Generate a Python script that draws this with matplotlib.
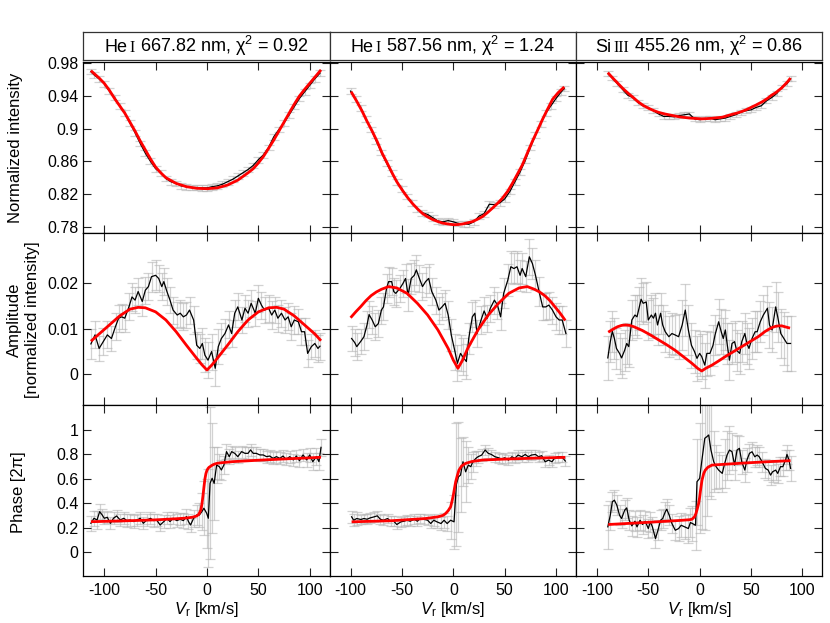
import matplotlib
matplotlib.use('Agg')
import matplotlib.pyplot as plt

plt.rcParams['font.family'] = ['Liberation Sans', 'DejaVu Sans']
plt.rcParams['mathtext.fontset'] = 'custom'
plt.rcParams['mathtext.rm'] = 'Liberation Sans'
plt.rcParams['mathtext.sf'] = 'Liberation Sans'
plt.rcParams['mathtext.it'] = 'Liberation Sans:italic'
plt.rcParams['mathtext.bf'] = 'Liberation Sans:bold'
plt.rcParams['axes.unicode_minus'] = False

# ---------------- titles ----------------
title_elem = ["He", "He", "Si"]
title_ion = ["I", "I", "III"]
title_rest = [r" 667.82 nm, $\mathrm{\chi}^2$ = 0.92",
              r" 587.56 nm, $\mathrm{\chi}^2$ = 1.24",
              r" 455.26 nm, $\mathrm{\chi}^2$ = 0.86"]

x_ticks = [-100, -50, 0, 50, 100]
row_yticks = [[0.78, 0.82, 0.86, 0.9, 0.94, 0.98], [0, 0.01, 0.02], [0, 0.2, 0.4, 0.6, 0.8, 1]]
row_yticklabels = [["0.78", "0.82", "0.86", "0.9", "0.94", "0.98"], ["0", "0.01", "0.02"],
                   ["0", "0.2", "0.4", "0.6", "0.8", "1"]]
row_labels = ["Normalized intensity", "Amplitude\n[normalized intensity]", "Phase [2\u03c0]"]

# ---------------- row 1: normalized intensity ----------------
int_v1 = [-113, -110, -105, -100, -95, -90, -85, -80, -75, -70, -65, -60, -55, -50, -45, -40, -35, -30, -25, -20,
          -15, -10, -5, 0, 5, 10, 15, 20, 25, 30, 35, 40, 45, 50, 55, 60, 65, 70, 75, 80, 85, 90, 95, 100, 105, 110]
int_y1 = [0.970, 0.966, 0.961, 0.955, 0.946, 0.938, 0.928, 0.919, 0.907, 0.895,
          0.882, 0.870, 0.860, 0.851, 0.846, 0.839, 0.835, 0.833, 0.830, 0.829,
          0.828, 0.828, 0.8275, 0.8275, 0.829, 0.830, 0.832, 0.835, 0.838, 0.842,
          0.846, 0.850, 0.855, 0.862, 0.868, 0.877, 0.890, 0.899, 0.907, 0.917,
          0.927, 0.937, 0.945, 0.953, 0.961, 0.968]
int_err1 = 0.0035
int_mv1 = [-113, -105, -100, -95, -90, -85, -80, -75, -70, -65, -60, -55, -50, -45, -40, -30, -20, -10, 0, 10, 20,
           30, 40, 45, 50, 55, 60, 65, 70, 75, 80, 85, 90, 95, 100, 105, 111]
int_m1 = [0.971, 0.962, 0.9555, 0.947, 0.937, 0.928, 0.919, 0.908, 0.897, 0.885, 0.874, 0.863, 0.853, 0.846,
          0.840, 0.833, 0.829, 0.827, 0.8265, 0.8275, 0.831, 0.837, 0.846, 0.851, 0.858, 0.866, 0.876, 0.886,
          0.897, 0.908, 0.919, 0.930, 0.940, 0.948, 0.9555, 0.963, 0.972]

int_v2 = [-100, -95, -90, -85, -80, -75, -70, -65, -60, -55, -50, -45, -40, -35, -30, -25, -20, -15, -10, -5,
          0, 5, 10, 15, 20, 25, 30, 35, 40, 45, 50, 55, 60, 65, 70, 75, 80, 85, 90, 95, 100, 105, 108]
int_y2 = [0.946, 0.936, 0.925, 0.912, 0.899, 0.885, 0.871, 0.858, 0.846, 0.835,
          0.826, 0.817, 0.809, 0.802, 0.797, 0.795, 0.791, 0.787, 0.786, 0.7875,
          0.786, 0.784, 0.7835, 0.783, 0.786, 0.793, 0.796, 0.8075, 0.807, 0.809,
          0.814, 0.823, 0.835, 0.847, 0.861, 0.877, 0.892, 0.906, 0.919, 0.928,
          0.937, 0.945, 0.949]
int_err2 = 0.0035
int_mv2 = [-99.5, -94, -88.8, -84, -79, -74, -69.3, -64, -59.5, -55, -49.8, -45, -40, -35, -30.2, -25, -20.5,
           -15, -10.7, -5, 0, 4, 8.8, 13, 18.5, 23, 28.3, 33, 38, 43, 47.8, 53, 57.6, 62, 67.3, 72, 77, 82, 86.8,
           91, 96.6, 102, 108]
int_m2 = [0.9453, 0.9335, 0.9215, 0.909, 0.897, 0.884, 0.870, 0.857, 0.8456, 0.835, 0.825, 0.8165, 0.8087,
          0.8020, 0.7964, 0.7920, 0.789, 0.7863, 0.7845, 0.7833, 0.7825, 0.7826, 0.7833, 0.7845, 0.7862, 0.7888,
          0.7923, 0.797, 0.8026, 0.8085, 0.8149, 0.8235, 0.8333, 0.8435, 0.8559, 0.870, 0.8846, 0.898, 0.9113,
          0.922, 0.9359, 0.944, 0.9511]

int_v3 = [-89, -85, -80, -75, -70, -65, -60, -55, -50, -45, -40, -35, -30, -25, -20, -15, -10, -5, 0, 5,
          10, 15, 20, 25, 30, 35, 40, 45, 50, 55, 60, 65, 70, 75, 80, 85, 88.5]
int_y3 = [0.967, 0.962, 0.955, 0.948, 0.941, 0.938, 0.932, 0.928, 0.9255, 0.922,
          0.918, 0.915, 0.915, 0.9145, 0.916, 0.917, 0.918, 0.912, 0.911, 0.912,
          0.913, 0.911, 0.912, 0.913, 0.915, 0.917, 0.920, 0.922, 0.923, 0.926,
          0.928, 0.934, 0.938, 0.943, 0.951, 0.955, 0.961]
int_err3 = 0.003
int_mv3 = [-89.4, -85, -80, -75, -69.3, -65, -60, -55, -49.7, -45, -40, -35, -30, -20, -10, 2, 10, 22, 30, 36,
           41, 46, 50, 55, 61, 66, 70, 74, 77, 80, 83, 86, 88.5]
int_m3 = [0.9686, 0.9625, 0.956, 0.9495, 0.943, 0.9385, 0.933, 0.9285, 0.925, 0.9223, 0.920, 0.9183, 0.917,
          0.9145, 0.913, 0.912, 0.9125, 0.914, 0.917, 0.919, 0.921, 0.9235, 0.926, 0.929, 0.933, 0.937, 0.941,
          0.944, 0.947, 0.950, 0.954, 0.958, 0.962]

# ---------------- row 2: amplitude ----------------
amp_v1 = [-113, -109, -105, -101, -97, -93, -89, -86, -83, -80,
          -76, -73, -70, -67, -63, -60, -57, -54, -50, -47,
          -44, -42, -39, -36, -33, -29, -26, -23, -20, -17,
          -13, -10, -7, -4.5, -2, 1, 4.5, 8, 11, 14,
          17.5, 21, 24, 27, 30, 34, 37, 40, 43, 47,
          50, 53, 56, 60, 63, 66, 69, 72.5, 76, 79,
          82, 85, 89, 92, 95, 98, 101.6, 105, 108, 110]
amp_y1 = [.0066, .0086, .0056, .0071, .0086, .0078, .0105, .0123, .0126, .0123,
          .0148, .0170, .0163, .0182, .0160, .0185, .0193, .0215, .0218, .0211,
          .0193, .0204, .0182, .0163, .0141, .0130, .0134, .0126, .0130, .0141,
          .0119, .0063, .0056, .0067, .0041, .0030, .0049, .0012, .0060, .0078,
          .0089, .0108, .0089, .0134, .0148, .0119, .0145, .0134, .0156, .0134,
          .0167, .0152, .0141, .0145, .0130, .0141, .0123, .0134, .0119, .0126,
          .0104, .0119, .0115, .0093, .0093, .0045, .0060, .0067, .0056, .0061]
amp_e1 = [.0033, .0030, .0028, .0030, .0030, .0028, .0030, .0030, .0028, .0030,
          .0030, .0030, .0028, .0030, .0032, .0030, .0030, .0033, .0033, .0030,
          .0030, .0030, .0030, .0028, .0030, .0028, .0030, .0030, .0028, .0030,
          .0030, .0030, .0032, .0035, .0038, .0040, .0040, .0040, .0038, .0035,
          .0032, .0030, .0030, .0030, .0030, .0028, .0030, .0030, .0030, .0028,
          .0030, .0030, .0028, .0030, .0030, .0028, .0030, .0030, .0028, .0030,
          .0030, .0030, .0028, .0030, .0030, .0030, .0028, .0030, .0030, .0030]
amp_mv1 = [-113, -105, -95, -85, -75, -67, -60, -50, -40, -30, -20, -10, -5, 0, 5, 10, 20, 30, 40, 50, 60, 68,
           75, 85, 95, 105, 111]
amp_m1 = [.0072, .0088, .0108, .0128, .0143, .0147, .0146, .0137, .0119, .0093, .0063, .0034, .0020, .0008,
          .0020, .0034, .0063, .0093, .0119, .0137, .0146, .0147, .0143, .0128, .0108, .0088, .0073]

amp_v2 = [-99, -96, -94, -90, -87, -84, -82, -79, -76, -73,
          -70, -68, -65, -63, -60, -58, -56, -52, -49, -46.5,
          -44, -41, -38, -36, -33, -30, -27, -24, -21, -17,
          -14, -11, -8, -5, -2, 1.6, 4, 7, 9, 12.7,
          15, 18.5, 21, 23, 27, 30, 33, 36, 40, 43,
          46, 49, 53, 56, 59, 62, 65, 67, 70.5, 74,
          77, 80, 83.5, 87, 90, 93, 96.5, 100, 103, 106,
          109.6]
amp_y2 = [.0078, .0069, .0060, .0072, .0082, .0108, .0131, .0119, .0104, .0111,
          .0141, .0148, .0189, .0204, .0204, .0182, .0178, .0189, .0200, .0211,
          .0174, .0211, .0218, .0230, .0211, .0193, .0204, .0211, .0182, .0163,
          .0141, .0148, .0156, .0130, .0086, .0049, .0023, .0045, .0038, .0027,
          .0078, .0126, .0134, .0089, .0119, .0139, .0123, .0145, .0163, .0152,
          .0126, .0178, .0207, .0237, .0233, .0237, .0218, .0233, .0215, .0259,
          .0244, .0218, .0182, .0148, .0148, .0152, .0141, .0126, .0119, .0119,
          .0089]
amp_e2 = [.0028, .0030, .0030, .0028, .0030, .0030, .0030, .0030, .0030, .0030,
          .0030, .0030, .0033, .0033, .0030, .0030, .0030, .0030, .0030, .0033,
          .0035, .0035, .0035, .0033, .0030, .0030, .0033, .0033, .0030, .0030,
          .0030, .0030, .0030, .0030, .0035, .0040, .0040, .0040, .0040, .0038,
          .0035, .0033, .0030, .0030, .0030, .0030, .0030, .0030, .0030, .0030,
          .0030, .0033, .0035, .0035, .0035, .0035, .0035, .0035, .0035, .0040,
          .0035, .0033, .0033, .0030, .0030, .0030, .0030, .0030, .0030, .0030,
          .0030]
amp_mv2 = [-100, -95, -90, -85, -80, -75, -70, -63, -55, -45, -35, -25, -15, -5, 0, 4.5, 9, 14, 24, 34, 44, 54,
           64, 72, 79, 84, 89, 94, 99, 104, 109]
amp_m2 = [.0124, .0137, .0149, .0162, .0173, .0181, .0187, .0193, .0190, .0178, .0156, .0130, .0097, .0056,
          .0030, .0012, .0030, .0056, .0097, .0130, .0156, .0178, .0190, .0193, .0187, .0181, .0173, .0162,
          .0148, .0134, .0118]

amp_v3 = [-89.4, -87, -85, -83, -81, -78, -76, -73, -71, -69,
          -66, -63, -61, -59, -57, -55, -52, -50, -47, -45,
          -43, -41, -38, -36, -33.5, -30, -27, -24, -20.5, -17,
          -14, -11, -8, -5, -2.6, 0, 2, 5, 7, 10,
          13, 15, 18.5, 21, 23, 25, 26.7, 29, 31.5, 34,
          36, 39, 41, 44, 46, 48, 51, 54, 56, 59,
          62, 66, 68, 70.5, 74, 76, 79, 82, 85, 88.5]
amp_y3 = [.0035, .0071, .0094, .0078, .0056, .0045, .0035, .0052, .0067, .0060,
          .0119, .0130, .0126, .0145, .0165, .0156, .0159, .0119, .0130, .0123,
          .0134, .0108, .0134, .0108, .0093, .0082, .0089, .0086, .0082, .0108,
          .0141, .0097, .0063, .0049, .0034, .0045, .0038, .0019, .0045, .0045,
          .0063, .0086, .0115, .0093, .0078, .0097, .0067, .0030, .0067, .0071,
          .0052, .0045, .0071, .0089, .0067, .0056, .0078, .0093, .0093, .0115,
          .0130, .0145, .0108, .0097, .0148, .0126, .0089, .0078, .0067, .0067]
amp_e3 = [.0048, .0045, .0045, .0045, .0045, .0045, .0045, .0045, .0045, .0045,
          .0045, .0045, .0048, .0048, .0048, .0045, .0045, .0045, .0045, .0045,
          .0045, .0045, .0045, .0045, .0045, .0045, .0045, .0045, .0050, .0055,
          .0058, .0055, .0050, .0048, .0050, .0050, .0050, .0050, .0050, .0048,
          .0045, .0045, .0050, .0050, .0045, .0045, .0045, .0045, .0045, .0045,
          .0045, .0045, .0045, .0045, .0045, .0045, .0045, .0045, .0045, .0045,
          .0045, .0050, .0050, .0050, .0055, .0055, .0055, .0058, .0060, .0060]
amp_mv3 = [-89, -84, -80, -76, -72, -68, -64, -56, -48, -40, -32, -24, -16, -7.5, -2, 2, 6, 12, 19, 25, 33, 41,
           49, 57, 64, 70, 74, 77, 80, 83, 88]
amp_m3 = [.0092, .0099, .0104, .0107, .0108, .0107, .0104, .0096, .0086, .0075, .0064, .0052, .0038, .0023,
          .0012, .0006, .0012, .0019, .0029, .0038, .0049, .0060, .0071, .0082, .0094, .0102, .0105, .0106,
          .0106, .0104, .0101]

# ---------------- row 3: phase ----------------
ph_v1 = [-113, -110, -107, -104.5, -102, -100, -97, -94, -91, -88,
         -84.5, -81, -78, -75, -71.5, -68, -65, -62, -58.5, -55,
         -52, -49, -45.6, -42, -39, -36, -33, -29.5, -26, -23,
         -20, -18, -16, -13, -10, -7.4, -5, -3, -0.3, 1.3,
         3, 5, 7, 9.4, 12, 14, 16.5, 19, 21.7, 24,
         27, 30, 33.7, 37, 40, 42.4, 45, 48, 51.5, 54.7,
         58, 61, 64.4, 67.6, 71, 74, 77, 80.6, 84, 87,
         90, 93.5, 97, 100, 103, 106.5, 109, 111]
ph_y1 = [.237, .278, .264, .332, .305, .278, .286, .237, .278, .297,
         .264, .278, .259, .264, .251, .264, .278, .237, .264, .278,
         .259, .264, .223, .251, .278, .251, .278, .259, .270, .259,
         .292, .251, .223, .278, .305, .305, .332, .360, .319, .278,
         .564, .605, .564, .714, .700, .673, .714, .823, .782, .823,
         .809, .782, .823, .809, .809, .837, .809, .809, .796, .796,
         .782, .787, .768, .782, .768, .787, .760, .782, .755, .787,
         .749, .796, .755, .796, .741, .782, .741, .858]
ph_e1 = [.06, .06, .07, .06, .05, .05, .05, .05, .05, .05,
         .05, .05, .05, .05, .05, .05, .05, .05, .05, .05,
         .05, .05, .05, .05, .05, .05, .05, .05, .05, .06,
         .06, .06, .06, .07, .08, .10, .15, .22, .28, .40,
         .62, .45, .30, .15, .10, .08, .07, .06, .06, .05,
         .05, .05, .05, .05, .05, .05, .05, .05, .05, .05,
         .05, .05, .05, .05, .05, .05, .05, .05, .05, .05,
         .05, .05, .06, .06, .07, .07, .07, .07]
ph_mv1 = [-113, -80, -50, -30, -20, -14, -10, -8, -6, -5, -4, -3, -2, -1, 0, 1, 2, 3, 5, 7, 10, 15, 25, 40, 60, 80,
          100, 111]
ph_m1 = [.250, .257, .265, .274, .280, .287, .297, .310, .345, .390, .455, .530, .600, .645, .670, .685, .695,
         .700, .712, .720, .728, .733, .741, .748, .757, .765, .772, .777]

ph_v2 = [-99, -97, -94, -90, -87, -84, -81, -77, -74, -71,
         -68, -64, -61, -58, -55, -51, -48, -45, -42, -38,
         -35, -32, -29, -25, -22, -19, -16, -12, -9, -6,
         -2.6, 0.7, 3, 5, 7, 9.4, 12, 14.6, 17, 19,
         22, 24, 27.6, 31, 34, 37, 40.6, 44, 47, 50,
         53.7, 57, 60, 63, 66.7, 70, 73, 76, 80, 83,
         86, 89.4, 92.7, 96, 99, 102, 105.7, 109]
ph_y2 = [.290, .262, .276, .268, .276, .270, .281, .290, .298, .270,
         .262, .276, .254, .254, .227, .249, .254, .262, .254, .270,
         .254, .276, .270, .262, .235, .262, .249, .235, .262, .235,
         .262, .249, .555, .617, .631, .740, .658, .713, .700, .740,
         .768, .781, .795, .836, .809, .800, .781, .773, .762, .773,
         .754, .781, .768, .795, .781, .800, .781, .795, .800, .781,
         .790, .740, .754, .740, .773, .781, .781, .746]
ph_e2 = [.05, .05, .05, .04, .04, .04, .04, .04, .04, .04,
         .04, .04, .04, .04, .04, .04, .04, .04, .04, .04,
         .04, .04, .04, .04, .04, .05, .05, .05, .06, .06,
         .15, .22, .50, .45, .30, .20, .25, .15, .10, .08,
         .06, .05, .05, .04, .04, .04, .04, .04, .04, .04,
         .04, .04, .04, .04, .04, .04, .04, .04, .04, .04,
         .04, .04, .04, .04, .04, .04, .04, .04]
ph_mv2 = [-99, -60, -27, -15, -10, -7.5, -5, -2.6, -1.2, 0, 1.2, 2.3, 4, 5.5, 8, 12, 18, 28, 50, 80, 109]
ph_m2 = [.249, .258, .276, .290, .302, .317, .340, .372, .420, .467, .525, .577, .630, .672, .705, .727, .742,
         .754, .762, .770, .776]

ph_v3 = [-89.4, -87, -85, -83, -80.6, -78, -76, -73, -71, -68.6,
         -66, -63, -61, -58, -55.6, -53, -50, -48, -46, -43,
         -40.6, -38, -36, -33.5, -32, -29.6, -27, -23.7, -20.5, -18,
         -14.6, -11, -9, -7, -4, -2.6, 0, 2, 5, 7,
         8.8, 11, 13.7, 16, 18.5, 22, 24.4, 26.7, 29, 31.5,
         34, 36.4, 38.7, 41, 44, 46, 48.5, 51, 53.7, 56,
         58, 60.8, 64, 66.7, 69, 71, 74, 76, 78.7, 81,
         83.6, 85, 87, 88.5]
ph_y3 = [.208, .303, .413, .426, .385, .303, .276, .344, .363, .262,
         .216, .254, .208, .262, .227, .254, .194, .249, .208, .112,
         .180, .262, .276, .330, .352, .303, .235, .180, .194, .221,
         .208, .194, .243, .235, .221, .577, .604, .740, .932, .945,
         .959, .836, .740, .700, .672, .645, .727, .795, .836, .822,
         .713, .836, .850, .740, .672, .754, .809, .822, .781, .795,
         .781, .740, .686, .672, .631, .658, .672, .645, .700, .700,
         .754, .800, .754, .686]
ph_e3 = [.18, .12, .08, .08, .08, .08, .08, .08, .08, .08,
         .08, .08, .08, .08, .08, .08, .08, .08, .08, .08,
         .08, .08, .08, .08, .08, .08, .08, .08, .10, .10,
         .10, .12, .12, .14, .20, .35, .45, .55, .75, .65,
         .50, .40, .25, .18, .15, .15, .20, .20, .20, .15,
         .12, .12, .10, .10, .10, .10, .08, .08, .08, .08,
         .08, .08, .08, .08, .08, .08, .08, .08, .08, .08,
         .08, .08, .08, .10]
ph_mv3 = [-89, -50, -20, -10, -7.5, -5, -3.6, -2.3, -1, 0, 0.65, 1.5, 2.3, 4, 5.5, 8, 12, 25, 50, 70, 88.5]
ph_m3 = [.227, .245, .260, .266, .270, .290, .317, .355, .399, .450, .494, .545, .590, .645, .672, .695, .713,
         .720, .733, .742, .749]

# ---------------- assemble ----------------
obs = [[(int_v1, int_y1, int_err1), (int_v2, int_y2, int_err2), (int_v3, int_y3, int_err3)],
       [(amp_v1, amp_y1, amp_e1), (amp_v2, amp_y2, amp_e2), (amp_v3, amp_y3, amp_e3)],
       [(ph_v1, ph_y1, ph_e1), (ph_v2, ph_y2, ph_e2), (ph_v3, ph_y3, ph_e3)]]
mod = [[(int_mv1, int_m1), (int_mv2, int_m2), (int_mv3, int_m3)],
       [(amp_mv1, amp_m1), (amp_mv2, amp_m2), (amp_mv3, amp_m3)],
       [(ph_mv1, ph_m1), (ph_mv2, ph_m2), (ph_mv3, ph_m3)]]
row_ylim = [(0.7719, 0.9816), (-0.00686, 0.0311), (-0.194, 1.207)]
xlim = (-120.4, 119.4)

W, H = 830, 623
fig = plt.figure(figsize=(8.3, 6.23), dpi=100)


def fx(px):
    return px / W


def fy(py):
    return 1 - py / H


L, R, T, B = 83.3, 822.3, 62.0, 576.0
cw = (R - L) / 3
rh = (B - T) / 3

for r in range(3):
    for c in range(3):
        ax = fig.add_axes([fx(L + c * cw), fy(T + (r + 1) * rh), cw / W, rh / H])
        v, y, e = obs[r][c]
        ax.errorbar(v, y, yerr=e, fmt='none', ecolor='#b4b4b4', alpha=0.6, elinewidth=0.9,
                    capsize=3.8, capthick=0.9, zorder=1)
        ax.plot(v, y, color='black', lw=0.9, zorder=2)
        mv, m = mod[r][c]
        ax.plot(mv, m, color='#ff0000', lw=2.0, zorder=3, solid_capstyle='butt', solid_joinstyle='round')
        ax.set_xlim(*xlim)
        ax.set_ylim(*row_ylim[r])
        ax.set_xticks(x_ticks)
        ax.set_yticks(row_yticks[r])
        ax.set_yticklabels(row_yticklabels[r])
        ax.tick_params(axis='both', direction='in', length=5.5, width=0.8, color='#222222',
                       top=True, right=True, labelsize=11.5,
                       labelleft=(c == 0), labelbottom=(r == 2))
        ax.tick_params(axis='x', pad=4.8)
        ax.tick_params(axis='y', pad=3.6)
        for s in ax.spines.values():
            s.set_linewidth(0.9)
        if r == 2:
            ax.set_xlabel(r'$V_{\mathrm{r}}$ [km/s]', fontsize=12, labelpad=2)

fig.text(fx(15.8), fy(148), row_labels[0], rotation=90, ha='center', va='center', fontsize=12)
fig.text(fx(23.5), fy(320), row_labels[1], rotation=90, ha='center', va='center', fontsize=12,
         multialignment='center', linespacing=1.25)
fig.text(fx(18.8), fy(492), row_labels[2], rotation=90, ha='center', va='center', fontsize=12)

# title boxes
title_axes = []
title_texts = []
for c in range(3):
    tax = fig.add_axes([fx(L + c * cw), fy(59.8), cw / W, 28 / H])
    tax.set_xticks([])
    tax.set_yticks([])
    for s in tax.spines.values():
        s.set_linewidth(0.9)
        s.set_color('#333333')
    parts = [(title_elem[c], 'Liberation Sans', 13),
             (title_ion[c], 'Liberation Serif', 11.5),
             (title_rest[c], 'Liberation Sans', 13)]
    ts = []
    for s, fam, size in parts:
        t = tax.text(0, 0.275, s, transform=tax.transAxes, fontsize=size, family=fam,
                     ha='left', va='baseline')
        ts.append(t)
    title_axes.append(tax)
    title_texts.append(ts)

fig.canvas.draw()
rend = fig.canvas.get_renderer()
for tax, ts in zip(title_axes, title_texts):
    axw = tax.get_window_extent(rend).width
    widths = [t.get_window_extent(rend).width for t in ts]
    gaps = [2.0, 0.0]
    total = sum(widths) + sum(gaps)
    x = 0.5 - total / axw / 2
    for i, (t, w) in enumerate(zip(ts, widths)):
        t.set_x(x)
        x += (w + (gaps[i] if i < len(gaps) else 0)) / axw

fig.savefig('out.png', dpi=100)
